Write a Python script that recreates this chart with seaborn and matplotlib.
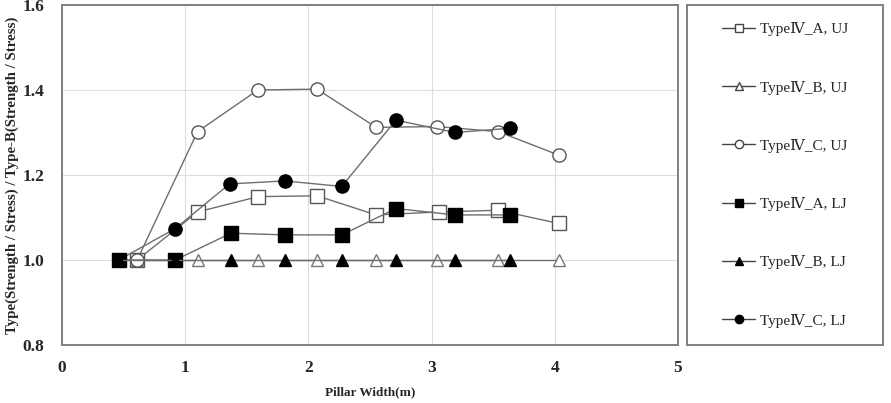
import numpy as np
import pandas as pd
import matplotlib
matplotlib.use("Agg")
import matplotlib.pyplot as plt
from matplotlib.lines import Line2D
import seaborn as sns

# series data
a_uj_x = [0.61, 1.10, 1.59, 2.07, 2.55, 3.06, 3.54, 4.03]
a_uj_y = [1.000, 1.113, 1.149, 1.151, 1.106, 1.113, 1.117, 1.086]

b_uj_x = [0.61, 1.10, 1.59, 2.07, 2.55, 3.04, 3.54, 4.03]
b_uj_y = [1.0, 1.0, 1.0, 1.0, 1.0, 1.0, 1.0, 1.0]

c_uj_x = [0.61, 1.10, 1.59, 2.07, 2.55, 3.04, 3.54, 4.03]
c_uj_y = [1.000, 1.302, 1.400, 1.402, 1.312, 1.314, 1.302, 1.247]

a_lj_x = [0.46, 0.92, 1.37, 1.81, 2.27, 2.71, 3.19, 3.64]
a_lj_y = [1.000, 1.000, 1.063, 1.059, 1.059, 1.121, 1.106, 1.106]

b_lj_x = [0.46, 0.92, 1.37, 1.81, 2.27, 2.71, 3.19, 3.64]
b_lj_y = [1.0, 1.0, 1.0, 1.0, 1.0, 1.0, 1.0, 1.0]

c_lj_x = [0.46, 0.92, 1.36, 1.81, 2.27, 2.71, 3.19, 3.64]
c_lj_y = [1.000, 1.074, 1.179, 1.186, 1.173, 1.329, 1.300, 1.310]

labels = ["Type\u2163_A, UJ", "Type\u2163_B, UJ", "Type\u2163_C, UJ",
          "Type\u2163_A, LJ", "Type\u2163_B, LJ", "Type\u2163_C, LJ"]
xs = [a_uj_x, b_uj_x, c_uj_x, a_lj_x, b_lj_x, c_lj_x]
ys = [a_uj_y, b_uj_y, c_uj_y, a_lj_y, b_lj_y, c_lj_y]
markers = ["s", "^", "o", "s", "^", "o"]
faces = ["white", "white", "white", "black", "black", "black"]
edges = ["#555555", "#777777", "#555555", "black", "black", "black"]
msizes = [10, 9, 9.5, 10, 9, 9.5]
# C_LJ goes under A_LJ so its first point hides behind the filled square
zord = [3, 4, 5, 7, 8, 6]

sns.set_style("whitegrid")
plt.rcParams["font.family"] = ["Liberation Serif", "DejaVu Serif", "Noto Sans CJK KR"]

fig = plt.figure(figsize=(8.91, 4.03), dpi=100)
ax = fig.add_axes([0.0696, 0.144, 0.6914, 0.8436])
lax = fig.add_axes([0.771, 0.144, 0.220, 0.8436])

line_col = "#6e6e6e"
for i in range(6):
    df = pd.DataFrame({"x": xs[i], "y": ys[i]})
    sns.lineplot(data=df, x="x", y="y", ax=ax, sort=False, color=line_col,
                 linewidth=1.0, marker=markers[i], markersize=msizes[i],
                 markerfacecolor=faces[i], markeredgecolor=edges[i],
                 markeredgewidth=1.0, zorder=zord[i])

ax.set_xlim(0, 5)
ax.set_ylim(0.8, 1.6)
ax.set_xticks([0, 1, 2, 3, 4, 5])
ax.set_yticks([0.8, 1.0, 1.2, 1.4, 1.6])
ax.set_yticklabels(["0.8", "1.0", "1.2", "1.4", "1.6"])
ax.grid(True, color="#dddddd", linewidth=0.8)
ax.tick_params(length=0, labelsize=12.5)
ax.tick_params(axis="x", pad=11)
ax.tick_params(axis="y", pad=13)
for t in ax.get_xticklabels() + ax.get_yticklabels():
    t.set_fontweight("bold")
for s in ax.spines.values():
    s.set_color("#808080")
    s.set_linewidth(1.4)
ax.set_xlabel("Pillar Width(m)", fontsize=9.5, fontweight="bold", labelpad=7)
ax.set_ylabel("Type(Strength / Stress) / Type-B(Strength / Stress)",
              fontsize=10.7, fontweight="bold", labelpad=2)

# legend in its own framed box
lax.set_xticks([])
lax.set_yticks([])
lax.set_facecolor("white")
lax.grid(False)
for s in lax.spines.values():
    s.set_color("#808080")
    s.set_linewidth(1.4)
handles = [Line2D([], [], color="#444444", linewidth=1.0, marker=markers[i],
                  markersize=6, markerfacecolor=faces[i],
                  markeredgecolor="#444444" if faces[i] == "white" else "black")
           for i in range(6)]
lax.legend(handles, labels, loc="center", frameon=False, fontsize=11,
           handlelength=2.2, handletextpad=0.3, labelspacing=2.9)

fig.savefig("out.png", dpi=100)
